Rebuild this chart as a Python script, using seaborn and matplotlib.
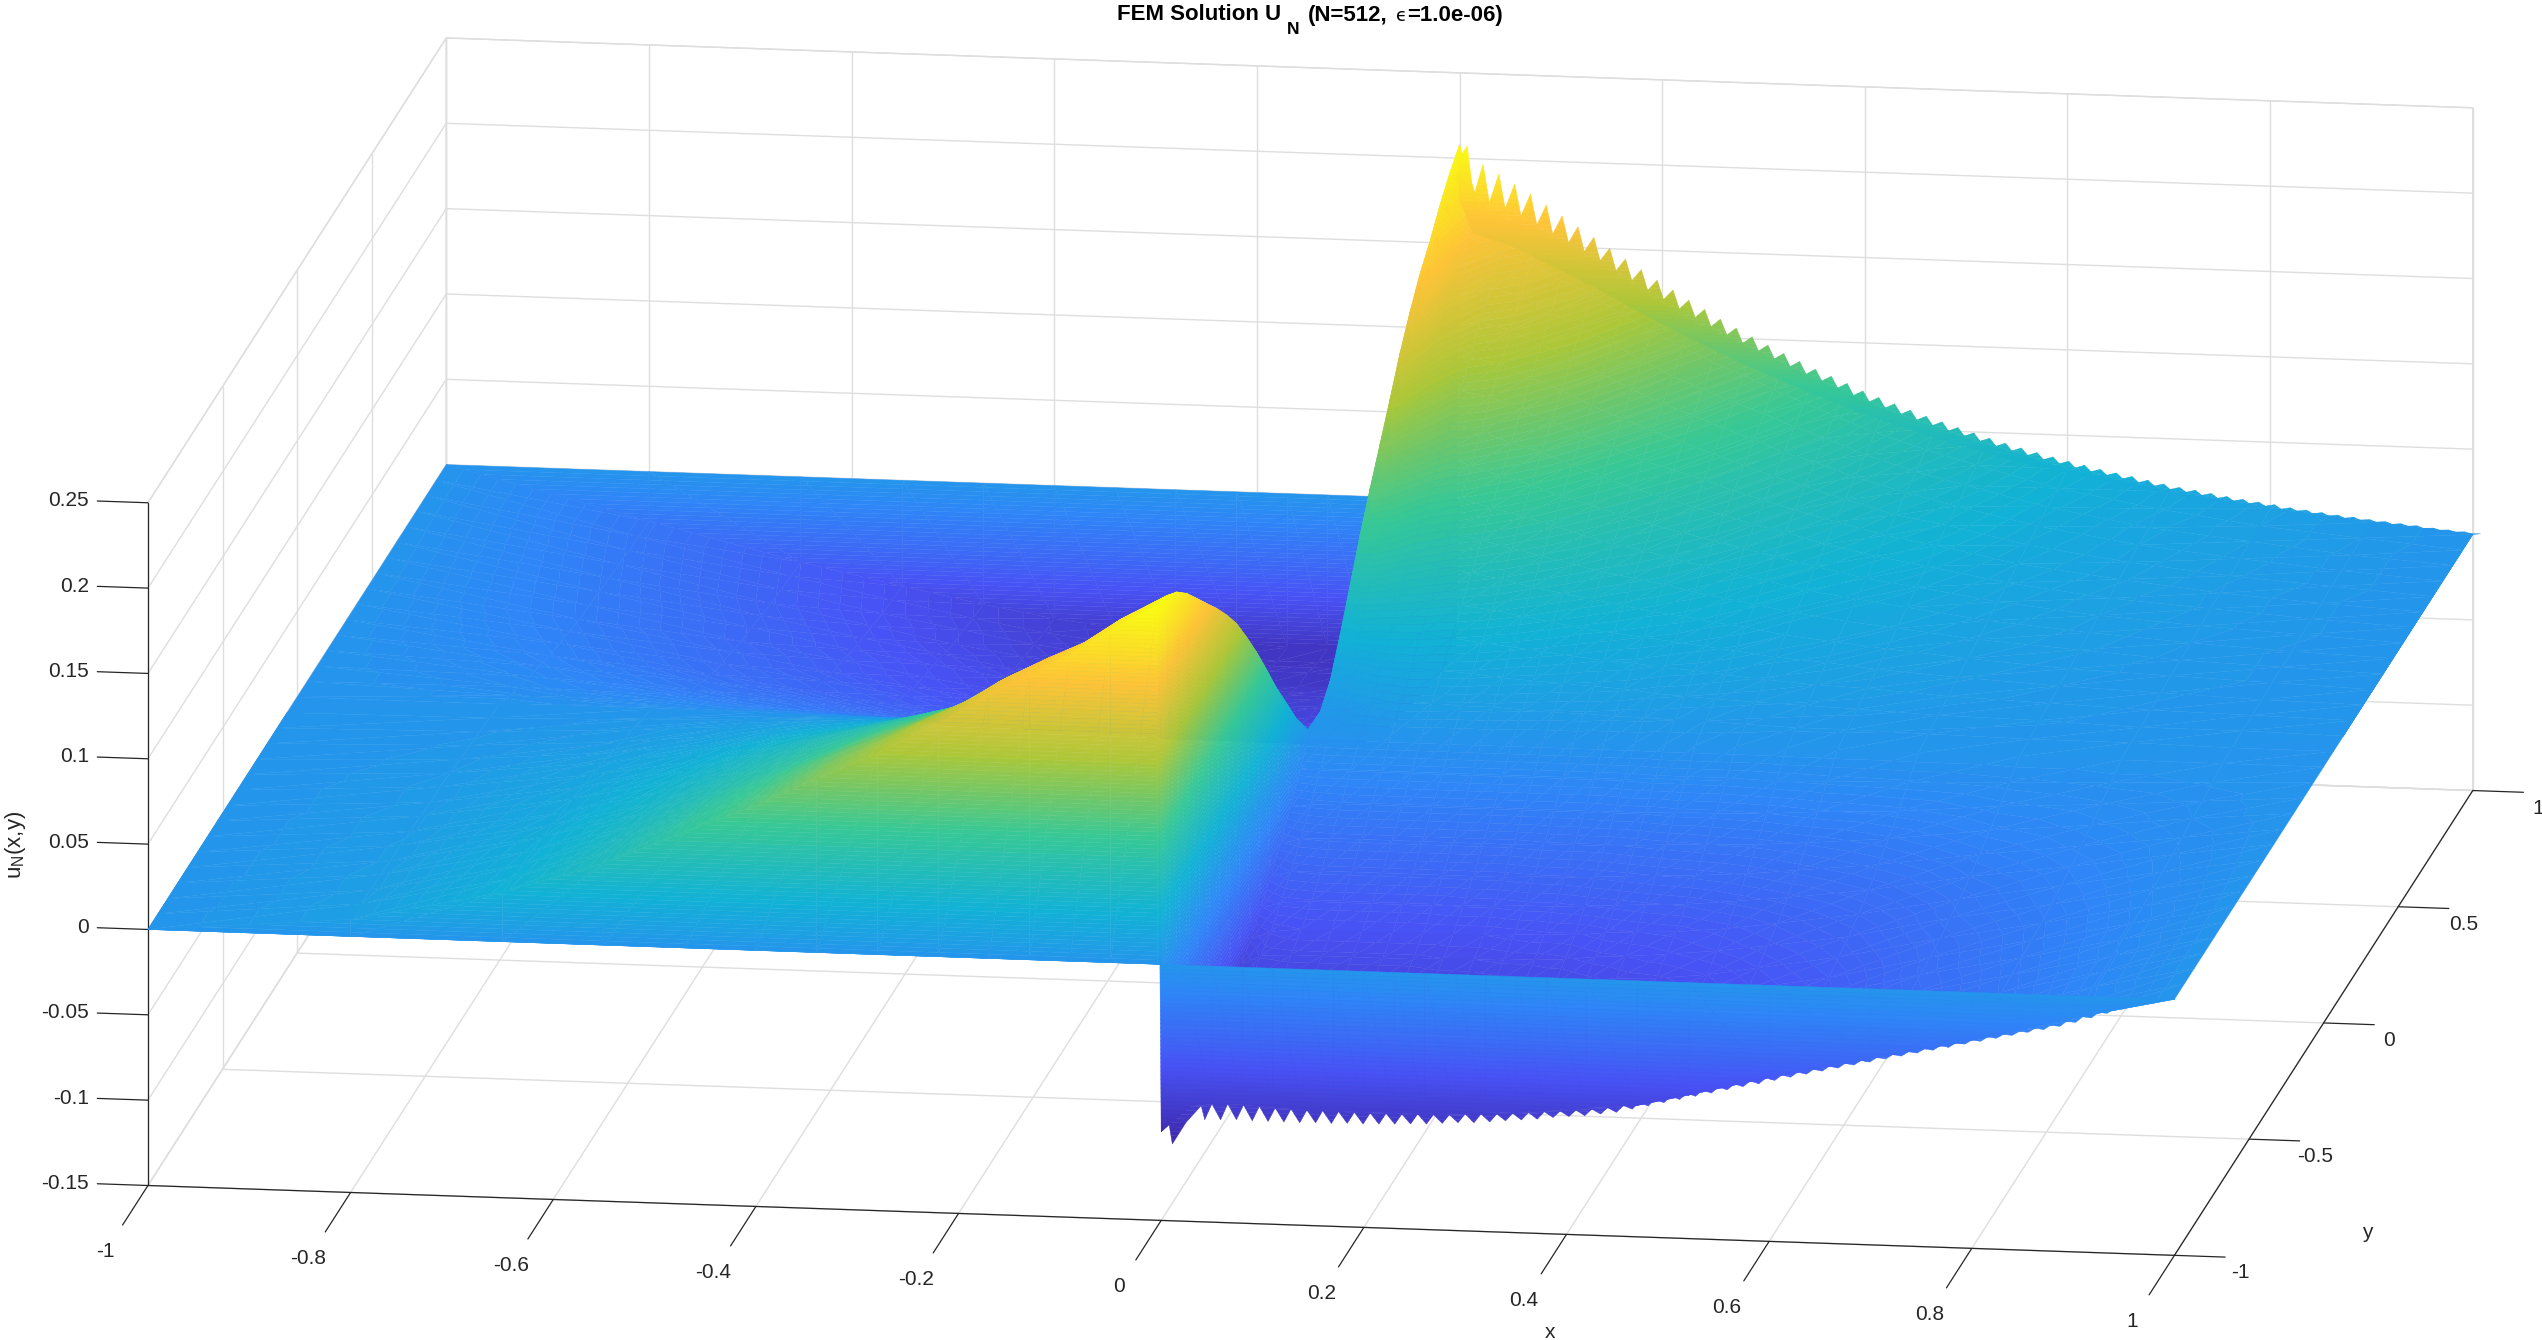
import numpy as np
import seaborn as sns
import matplotlib
matplotlib.use("Agg")
from matplotlib import pyplot as plt
from matplotlib.colors import Normalize
from mpl_toolkits.mplot3d import proj3d
from mpl_toolkits.mplot3d.art3d import Poly3DCollection

sns.set_theme(style="white")
plt.rcParams['font.family'] = ['Liberation Sans', 'DejaVu Sans']
plt.rcParams['mathtext.fontset'] = 'custom'
plt.rcParams['mathtext.rm'] = 'Liberation Sans'

# values, z in thousandths
surface_x = [-1, -.8, -.65, -.55, -.47, -.4, -.34, -.28, -.22, -.17, -.13, -.09, -.05, -.004,
             0, .02, .05, .08, .11, .14, .17, .2, .23, .26, .29, .32, .35, .38, .42, .47, .52,
             .6, .7, .8, .9, 1]
surface_y = [-1, -.933, -.867, -.8, -.733, -.667, -.6, -.533, -.467, -.4, -.333, -.267, -.2, -.133, -.067, 0,
             .067, .133, .2, .267, .333, .4, .467, .533, .6, .667, .733, .8, .867, .933, 1]
surface_z = [
    [0] * 31,
    [10, 10, 9, 9, 8, 8, 7, 7, 6, 6, 5, 4, 3, 2, 1, 0, -4, -8, -11, -14, -17, -19, -21, -23, -24, -25, -26, -27, -28, -29, -29],
    [29, 28, 27, 26, 25, 23, 21, 20, 18, 16, 14, 11, 8, 6, 3, 0, -7, -13, -19, -25, -29, -34, -37, -39, -42, -43, -45, -47, -48, -49, -50],
    [48, 47, 45, 43, 41, 38, 36, 33, 30, 26, 23, 18, 14, 10, 5, 0, -8, -16, -24, -30, -36, -42, -45, -49, -51, -54, -56, -58, -60, -61, -62],
    [68, 67, 64, 61, 57, 54, 50, 46, 42, 37, 32, 26, 20, 14, 7, 0, -10, -18, -27, -35, -42, -48, -52, -56, -59, -61, -64, -67, -68, -70, -71],
    [85, 83, 80, 77, 72, 67, 63, 58, 53, 47, 40, 32, 25, 17, 9, 0, -11, -20, -30, -38, -46, -52, -57, -61, -65, -67, -71, -73, -75, -77, -78],
    [102, 100, 96, 92, 86, 81, 75, 69, 63, 56, 48, 39, 30, 20, 10, 0, -11, -21, -31, -40, -48, -55, -60, -64, -68, -71, -74, -77, -79, -81, -82],
    [118, 116, 112, 106, 100, 93, 87, 80, 73, 65, 55, 45, 34, 24, 12, 0, -12, -22, -33, -42, -50, -58, -63, -68, -71, -74, -78, -81, -83, -85, -86],
    [137, 134, 129, 123, 116, 108, 101, 93, 85, 75, 64, 52, 40, 27, 14, 0, -12, -23, -33, -43, -51, -59, -64, -69, -73, -76, -80, -83, -84, -87, -88],
    [156, 153, 147, 140, 132, 123, 115, 106, 97, 86, 73, 59, 45, 31, 16, 0, -12, -23, -34, -44, -53, -60, -66, -71, -75, -78, -81, -85, -86, -89, -90],
    [168, 165, 159, 151, 142, 133, 124, 114, 104, 92, 79, 64, 49, 34, 17, 0, -12, -23, -34, -44, -53, -60, -66, -71, -75, -78, -81, -85, -86, -89, -90],
    [180, 176, 170, 162, 152, 142, 133, 122, 112, 99, 85, 68, 52, 36, 18, 0, -12, -23, -34, -44, -53, -60, -66, -71, -75, -78, -81, -85, -86, -89, -90],
    [195, 192, 186, 177, 166, 155, 144, 132, 119, 104, 88, 70, 52, 34, 17, 0, -12, -23, -34, -44, -53, -60, -66, -71, -75, -78, -81, -85, -86, -89, -90],
    [210, 207, 200, 190, 178, 166, 154, 141, 127, 110, 92, 73, 53, 35, 17, 0, -12, -23, -34, -44, -53, -60, -66, -71, -75, -78, -81, -85, -86, -89, -90],
    [-98, -98, -96, -94, -90, -86, -83, -78, -73, -67, -58, -49, -38, -26, -13, 0, 3, 12, 30, 50, 70, 88, 105, 122, 140, 155, 168, 178, 190, 200, 208],
    [-82, -91, -88, -86, -83, -80, -76, -72, -67, -62, -54, -45, -35, -24, -12, 0, 4, 15, 33, 52, 68, 80, 92, 104, 116, 127, 138, 147, 156, 164, 171],
    [-80, -89, -86, -85, -81, -78, -75, -71, -66, -60, -53, -44, -34, -23, -12, 0, 8, 20, 33, 46, 58, 69, 80, 91, 100, 110, 121, 132, 143, 154, 164],
    [-80, -89, -86, -85, -81, -78, -75, -71, -66, -60, -53, -44, -34, -23, -12, 0, 11, 21, 32, 43, 53, 64, 75, 85, 96, 107, 117, 128, 139, 149, 159],
    [-81, -89, -86, -85, -81, -78, -75, -71, -66, -60, -53, -44, -34, -23, -12, 0, 10, 20, 30, 40, 50, 60, 70, 80, 90, 100, 110, 120, 130, 140, 149],
    [-82, -89, -86, -85, -81, -78, -75, -71, -66, -60, -53, -44, -34, -23, -12, 0, 9, 19, 28, 38, 47, 56, 66, 75, 85, 94, 103, 113, 122, 132, 140],
    [-82, -89, -86, -85, -81, -78, -75, -71, -66, -60, -53, -44, -34, -23, -12, 0, 9, 17, 26, 35, 43, 52, 61, 69, 78, 87, 95, 104, 113, 121, 129],
    [-82, -88, -85, -84, -81, -77, -74, -70, -65, -60, -52, -44, -34, -23, -12, 0, 8, 16, 24, 32, 40, 48, 56, 64, 72, 80, 88, 96, 104, 112, 119],
    [-82, -88, -85, -84, -81, -77, -74, -70, -65, -60, -52, -44, -34, -23, -12, 0, 7, 15, 22, 29, 37, 44, 51, 59, 66, 73, 81, 88, 95, 103, 109],
    [-82, -87, -84, -83, -80, -76, -73, -69, -64, -59, -51, -43, -33, -23, -12, 0, 7, 14, 20, 27, 34, 41, 48, 54, 61, 68, 75, 82, 88, 95, 101],
    [-81, -86, -84, -82, -79, -75, -72, -68, -64, -58, -51, -43, -33, -23, -12, 0, 6, 13, 19, 25, 31, 38, 44, 50, 56, 63, 69, 75, 81, 88, 94],
    [-80, -85, -83, -81, -78, -74, -71, -68, -63, -58, -50, -42, -33, -22, -12, 0, 6, 11, 17, 23, 29, 34, 40, 46, 52, 57, 63, 69, 75, 80, 86],
    [-79, -83, -81, -79, -76, -73, -70, -66, -61, -56, -49, -41, -32, -22, -11, 0, 5, 10, 16, 21, 26, 31, 36, 42, 47, 52, 57, 62, 68, 73, 78],
    [-77, -81, -79, -77, -74, -71, -68, -64, -60, -55, -48, -40, -31, -21, -11, 0, 5, 9, 14, 19, 24, 28, 33, 38, 43, 47, 52, 57, 62, 66, 71],
    [-75, -79, -77, -75, -72, -69, -66, -63, -58, -54, -47, -39, -30, -21, -11, 0, 4, 8, 12, 16, 20, 24, 28, 33, 37, 41, 45, 49, 53, 57, 61],
    [-73, -75, -73, -71, -69, -66, -63, -60, -55, -51, -44, -37, -29, -20, -10, 0, 3, 7, 10, 14, 17, 20, 24, 27, 31, 34, 37, 41, 44, 48, 51],
    [-66, -69, -67, -66, -63, -61, -58, -55, -51, -47, -41, -34, -27, -18, -9, 0, 3, 6, 9, 11, 14, 17, 20, 23, 26, 29, 32, 34, 37, 40, 43],
    [-54, -59, -58, -56, -54, -52, -50, -47, -44, -40, -35, -29, -23, -16, -8, 0, 2, 4, 6, 8, 10, 12, 14, 16, 18, 20, 22, 24, 26, 28, 30],
    [-41, -42, -41, -40, -39, -37, -36, -34, -31, -29, -25, -21, -16, -11, -6, 0, 1, 3, 4, 5, 6, 8, 9, 10, 11, 13, 14, 15, 16, 18, 19],
    [-28, -29, -28, -27, -26, -25, -24, -23, -21, -19, -17, -14, -11, -8, -4, 0, 1, 1, 2, 3, 4, 4, 5, 6, 7, 7, 8, 9, 10, 10, 11],
    [-13, -14, -13, -13, -13, -12, -12, -11, -10, -9, -8, -7, -5, -4, -2, 0, 0, 1, 1, 1, 2, 2, 2, 3, 3, 3, 4, 4, 4, 5, 5],
    [0] * 31,
]

# saw teeth along y=1, one every 1/64 in x
top_tip_x0 = 0.0076
top_tip_z = [207.4, 197, 191.6, 186, 180.5, 174.4, 168.3, 162.3, 156.4, 150.3, 144.3, 138.4, 132.6,
             127.1, 121.5, 116.4, 111, 106.1, 101.3, 96.8, 92.2, 87.8, 83.6, 79.8, 75.9, 71.8, 68.3,
             64.9, 61.5, 58.3, 55.3, 52.3, 49.5, 46.7, 44.1, 41.6, 39.2, 37, 34.8, 32.7, 30.7, 28.9,
             27.1, 25.2, 23.4, 21.7, 20.3, 18.8, 17.3, 16, 14.7, 13.5, 12, 11, 9.8, 8.7, 7.7, 6.7,
             5.8, 4.9, 4, 3, 2.2, 1.4, .6]
top_notch_z = [177.7, 174.6, 171.6, 167.5, 162.5, 157.5, 152.7, 147.8, 142.8, 137.3, 131.8, 126.4,
               121.3, 116.1, 111.4, 106.4, 101.8, 97.3, 93.1, 88.8, 84.6, 80.5, 76.8, 73, 69, 65.6,
               62.3, 59, 55.9, 53, 50.1, 47.4, 44.7, 42.1, 39.7, 37.4, 35.2, 33.1, 31, 29.1, 27.3,
               25.6, 23.7, 22, 20.3, 19, 17.5, 16.1, 14.8, 13.6, 12.4, 11, 10.2, 9, 8, 7, 6.2, 5.3,
               4.4, 3.6, 2.6, 1.9, 1.1, .4]

# saw teeth along y=-1
bottom_tip_x0 = 0.043
bottom_tip_z = [-90.1, -89.9, -89.5, -89.8, -89.9, -89.9, -90, -89.7, -89.8, -89.4, -89.5, -89.2,
                -88.9, -88.5, -88.2, -87.5, -86.8, -86.5, -85.7, -84.7, -83.9, -83.1, -81.8, -80.9,
                -80.1, -78.8, -77.5, -75.3, -73.1, -70.9, -68.7, -66.5, -64.3, -62.1, -59.9, -57.8,
                -55.6, -53.4, -51.3, -49.2, -47.1, -45, -42.9, -40.8, -38.8, -36.7, -34.7, -32.6,
                -30.5, -28.5, -26.4, -24.4, -22.3, -20.3, -18.2, -15.6, -12.6, -9.6, -6.8, -4.2,
                -2, -.3]
bottom_notch_z = [-80.7, -80.4, -80.7, -81.2, -81.8, -82.1, -82.4, -82.5, -82.7, -82.8, -82.9,
                  -82.8, -82.9, -82.5, -82.6, -82.3, -81.5, -81.2, -80.9, -80.2, -79.4, -78.6,
                  -77.9, -77, -76.1, -75, -73.4, -71.2, -69, -66.9, -64.8, -62.7, -60.6, -58.5,
                  -56.5, -54.4, -52.3, -50.3, -48.3, -46.2, -44.2, -42.2, -40.1, -38.1, -36.1,
                  -34.1, -32.1, -30, -28, -25.9, -24, -21.9, -19.8, -17.6, -15, -12.1, -9.2,
                  -6.5, -3.9, -1.8, -.2]
# first deep tooth at the x=0 corner: x and z of its outline
corner_tooth_x = [0.004, 0.011, 0.0246, 0.0395]
corner_tooth_z = [-80, -105, -92, -82]

x_ticks = [-1, -.8, -.6, -.4, -.2, 0, .2, .4, .6, .8, 1]
x_tick_labels = ['-1', '-0.8', '-0.6', '-0.4', '-0.2', '0', '0.2', '0.4', '0.6', '0.8', '1']
y_ticks = [-1, -.5, 0, .5, 1]
y_tick_labels = ['-1', '-0.5', '0', '0.5', '1']
z_ticks = [-.15, -.1, -.05, 0, .05, .1, .15, .2, .25]
z_tick_labels = ['-0.15', '-0.1', '-0.05', '0', '0.05', '0.1', '0.15', '0.2', '0.25']

# parula stops
parula = [(0.2422, 0.1504, 0.6603), (0.2810, 0.3228, 0.9579), (0.1786, 0.5289, 0.9682),
          (0.0689, 0.6948, 0.8394), (0.2161, 0.7843, 0.5923), (0.6720, 0.7793, 0.2227),
          (0.9970, 0.7659, 0.2199), (0.9769, 0.9839, 0.0805)]
cmap = sns.blend_palette(parula, n_colors=256, as_cmap=True)
norm = Normalize(vmin=-0.105, vmax=0.208)
band_edges = np.arange(-.11, .2151, .0025)

AXIS_COLOR = '#262626'
GRID_COLOR = '#dedede'
FONT = 15
W, H = 2542, 1340
zmin, zmax = -.15, .25

fig = plt.figure(figsize=(W / 100, H / 100), dpi=100)
ax = fig.add_axes([5 / W, -612 / H, 1, W / H], projection='3d',
                  proj_type='ortho', computed_zorder=False)
ax.view_init(elev=13.4, azim=-81.54)
ax.set_box_aspect((1264, 1251, 433), zoom=1.133)
ax.set_xlim(-1, 1, view_margin=0)
ax.set_ylim(-1, 1, view_margin=0)
ax.set_zlim(zmin, zmax, view_margin=0)
ax.patch.set_alpha(0)
ax.set_xticks([])
ax.set_yticks([])
ax.set_zticks([])
for axis in (ax.xaxis, ax.yaxis, ax.zaxis):
    axis.set_pane_color((1, 1, 1, 1))
    axis.pane.set_edgecolor(GRID_COLOR)
    axis.line.set_color((0, 0, 0, 0))


def draw_line(xs, ys, zs, color=AXIS_COLOR, lw=0.9, order=1):
    ax.plot(xs, ys, zs, color=color, lw=lw, zorder=order, clip_on=False)


def draw_grid(xs, ys, zs):
    draw_line(xs, ys, zs, color=GRID_COLOR, lw=1.0, order=0.5)


def tick_text(x, y, z, label, ha='center'):
    px, py, _ = proj3d.proj_transform(x, y, z, ax.get_proj())
    ax.text2D(px, py, label, transform=ax.transData, ha=ha, va='center', fontsize=FONT, color=AXIS_COLOR)


for x in x_ticks:
    draw_grid([x, x], [-1, 1], [zmin, zmin])
    draw_grid([x, x], [1, 1], [zmin, zmax])
for y in y_ticks:
    draw_grid([-1, 1], [y, y], [zmin, zmin])
    draw_grid([-1, -1], [y, y], [zmin, zmax])
for z in z_ticks:
    draw_grid([-1, 1], [1, 1], [z, z])
    draw_grid([-1, -1], [-1, 1], [z, z])

draw_line([-1, 1], [-1, -1], [zmin, zmin])
draw_line([1, 1], [-1, 1], [zmin, zmin])
draw_line([-1, -1], [-1, -1], [zmin, zmax])
for x, label in zip(x_ticks, x_tick_labels):
    draw_line([x, x], [-1, -1.17], [zmin, zmin])
    tick_text(x, -1.285, zmin, label)
for y, label in zip(y_ticks, y_tick_labels):
    draw_line([1, 1.05], [y, y], [zmin, zmin])
    tick_text(1.065, y, zmin - .009, label)
for z, label in zip(z_ticks, z_tick_labels):
    draw_line([-1, -1.05], [-1, -1], [z, z])
    tick_text(-1.058, -1, z, label, ha='right')


def clip_z(pts, level, keep_above):
    out = []
    for i in range(len(pts)):
        a, b = pts[i], pts[(i + 1) % len(pts)]
        sa, sb = a[2] - level, b[2] - level
        if not keep_above:
            sa, sb = -sa, -sb
        if sa >= 0:
            out.append(a)
        if sa * sb < 0:
            out.append(a + sa / (sa - sb) * (b - a))
    return out


def draw_filled(triangles, order):
    # colour the flat triangles by value: each one is cut in thin bands, as contourf does
    polys, colors = [], []
    for tri in triangles:
        zs = tri[:, 2]
        first = max(np.searchsorted(band_edges, zs.min(), 'right') - 1, 0)
        last = max(np.searchsorted(band_edges, zs.max(), 'left'), first + 1)
        for i in range(first, last):
            lo, hi = band_edges[i], band_edges[i + 1]
            piece = clip_z(list(tri), lo, True) if zs.min() < lo else list(tri)
            if len(piece) and zs.max() > hi:
                piece = clip_z(piece, hi, False)
            if len(piece) >= 3:
                polys.append(np.array(piece))
                colors.append(cmap(norm((lo + hi) / 2)))
    ax.add_collection3d(Poly3DCollection(polys, facecolors=colors, edgecolors=colors,
                                         linewidths=0.3, zorder=order))


def grid_triangles(xs, ys, zs):
    points = np.dstack([xs, ys, zs])
    tris = []
    for i in range(points.shape[0] - 1):
        for j in range(points.shape[1] - 1):
            a, b, c, d = points[i, j], points[i + 1, j], points[i + 1, j + 1], points[i, j + 1]
            tris.append(np.array([a, b, c]))
            tris.append(np.array([a, c, d]))
    return tris


def curtain_triangles(xs, edge, y):
    # a flat wall at constant y between z=0 and the edge of the surface
    xx = np.vstack([xs, xs])
    zz = np.vstack([np.zeros_like(edge), edge])
    return grid_triangles(xx, np.full(zz.shape, y), zz)


def teeth_triangles(tip_x, tip_z, notch_x, notch_z, y):
    tris = []
    for i in range(len(tip_x)):
        xa, za = notch_x[i], notch_z[i]
        xb, zb = notch_x[i + 1], notch_z[i + 1]
        tris.append(np.array([(xa, y, za), (tip_x[i], y, tip_z[i]), (xb, y, zb)]))
        tris.append(np.array([(xa, y, za), (xb, y, zb), (xb, y, .88 * zb)]))
        tris.append(np.array([(xa, y, za), (xb, y, .88 * zb), (xa, y, .88 * za)]))
    return tris


sx = np.array(surface_x)
sy = np.array(surface_y)
sz = np.array(surface_z) / 1000
X, Y = np.meshgrid(sx, sy, indexing='ij')
left = sx <= 0
right = sx >= 0

draw_filled(curtain_triangles(sx[left], np.minimum(sz[left, -1], 0), 1), 2)
draw_filled(grid_triangles(X, Y, sz), 3)

# top teeth
k_top = np.arange(len(top_tip_z))
tip_x = top_tip_x0 + k_top / 64
notch_x = np.r_[0, tip_x[:-1] + .4 / 64, 1]
notch_z = np.r_[200, top_notch_z, 0] / 1000
draw_filled(teeth_triangles(tip_x, np.array(top_tip_z) / 1000, notch_x, notch_z, 1), 4)

front = curtain_triangles(sx[left], np.maximum(sz[left, 0], 0), -1)
front += curtain_triangles(sx[right], np.minimum(sz[right, 0], 0), -1)
draw_filled(front, 5)

# bottom teeth
k_bot = np.arange(len(bottom_tip_z))
tip_x = bottom_tip_x0 + k_bot / 64
notch_x = np.r_[corner_tooth_x[-1], tip_x[:-1] + .45 / 64, 1]
notch_z = np.r_[corner_tooth_z[-1], bottom_notch_z, 0] / 1000
teeth = teeth_triangles(tip_x, np.array(bottom_tip_z) / 1000, notch_x, notch_z, -1)
corner = np.array([(x, -1, z / 1000) for x, z in zip(corner_tooth_x, corner_tooth_z)])
teeth += [corner[[0, 1, 2]], corner[[0, 2, 3]],
          np.array([corner[0], corner[3], (corner_tooth_x[3], -1, -.07)]),
          np.array([corner[0], (corner_tooth_x[3], -1, -.07), (corner_tooth_x[0], -1, -.07)])]
draw_filled(teeth, 6)

TITLE = 16
title_y = 1 - 15 / H
fig.text(1281 / W, title_y, 'FEM Solution U', ha='right', va='center', fontsize=TITLE, fontweight='bold', color='black')
fig.text(1287 / W, 1 - 29 / H, 'N', ha='left', va='center', fontsize=12.5, fontweight='bold', color='black')
fig.text(1308 / W, title_y, '(N=512,', ha='left', va='center', fontsize=TITLE, fontweight='bold', color='black')
fig.text(1396 / W, 1 - 16 / H, '\u03f5', ha='left', va='center', fontsize=13, color='black', family='DejaVu Sans')
fig.text(1503 / W, title_y, '=1.0e-06)', ha='right', va='center', fontsize=TITLE, fontweight='bold', color='black')
fig.text(1550 / W, 1 - 1332 / H, 'x', ha='center', va='center', fontsize=FONT, color=AXIS_COLOR)
fig.text(2367 / W, 1 - 1232 / H, 'y', ha='center', va='center', fontsize=FONT, color=AXIS_COLOR)
fig.text(16 / W, 1 - 845 / H, r'u$_{\mathrm{N}}$(x,y)', rotation=90, ha='center', va='center',
         fontsize=16, color=AXIS_COLOR)

fig.savefig('out.png', dpi=100)
